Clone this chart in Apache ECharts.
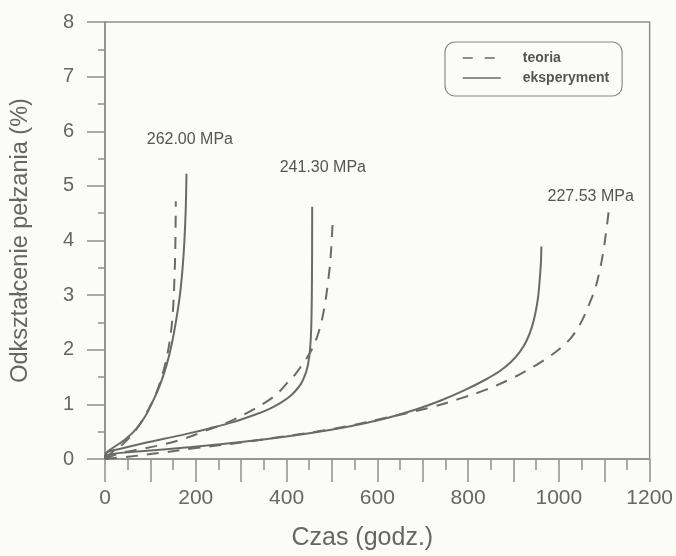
<!DOCTYPE html>
<html>
<head>
<meta charset="utf-8">
<script src="https://cdn.jsdelivr.net/npm/echarts@6/dist/echarts.min.js"></script>
<style>
  html, body { margin: 0; padding: 0; background: #fbfbf7; }
  #chart { width: 676px; height: 556px; }
</style>
</head>
<body>
<div id="chart"></div>
<script>
// Creep strain (%) versus time (h) at three stress levels.
// Each stress level has a theoretical curve and an experimental curve, given as [time, strain].
const stressLevels = ['262.00 MPa', '241.30 MPa', '227.53 MPa'];

const theory262 = [[0, 0], [15, 0.12], [40, 0.28], [65, 0.5], [90, 0.82], [110, 1.15], [125, 1.5],
  [137, 1.9], [145, 2.3], [150, 2.75], [153, 3.3], [155, 3.9], [156, 4.72]];
const experiment262 = [[0, 0], [4, 0.12], [20, 0.22], [45, 0.36], [70, 0.56], [90, 0.8], [105, 1.05],
  [120, 1.33], [135, 1.7], [147, 2.1], [157, 2.55], [165, 3.0], [171, 3.5], [175, 4.0], [178, 4.6], [179.5, 5.22]];

const theory241 = [[0, 0], [30, 0.1], [80, 0.18], [130, 0.27], [170, 0.36], [216, 0.5], [268, 0.66],
  [312, 0.84], [356, 1.05], [380, 1.2], [400, 1.38], [420, 1.56], [437, 1.76], [450, 1.92], [462, 2.12],
  [471, 2.33], [478, 2.55], [485, 2.85], [490, 3.15], [495, 3.5], [498, 3.8], [502, 4.4]];
const experiment241 = [[0, 0], [4, 0.12], [30, 0.18], [80, 0.28], [130, 0.37], [180, 0.46], [230, 0.56],
  [280, 0.67], [330, 0.81], [360, 0.91], [385, 1.02], [405, 1.13], [420, 1.25], [432, 1.38], [440, 1.52],
  [446, 1.68], [450, 1.88], [453, 2.15], [455, 2.6], [456, 3.3], [456.5, 4.62]];

const theory227 = [[0, 0], [60, 0.05], [120, 0.11], [200, 0.2], [300, 0.3], [400, 0.42], [480, 0.52],
  [540, 0.61], [600, 0.72], [660, 0.83], [720, 0.95], [780, 1.1], [840, 1.27], [900, 1.49], [950, 1.72],
  [980, 1.88], [1005, 2.04], [1025, 2.2], [1042, 2.4], [1056, 2.62], [1068, 2.86], [1080, 3.12],
  [1090, 3.45], [1098, 3.8], [1104, 4.15], [1110, 4.55]];
const experiment227 = [[0, 0], [8, 0.08], [80, 0.14], [190, 0.22], [300, 0.31], [400, 0.41], [495, 0.53],
  [570, 0.65], [630, 0.77], [690, 0.92], [740, 1.07], [790, 1.25], [840, 1.46], [870, 1.61], [895, 1.78],
  [914, 1.96], [928, 2.15], [940, 2.4], [948, 2.66], [954, 2.95], [958, 3.3], [960.5, 3.6], [961.5, 3.89]];

const xTicks = [0, 200, 400, 600, 800, 1000, 1200];
const yTicks = [0, 1, 2, 3, 4, 5, 6, 7, 8];

const lineColor = '#6a6a6a';
const axisColor = '#8e8e8e';
const textColor = '#666';
const fontFamily = "'Liberation Sans', Arial, sans-serif";
const dashPattern = [12, 9];

function curve(name, data, dashed, labelText, labelCoord) {
  const s = {
    name: name,
    type: 'line',
    data: data,
    symbol: 'none',
    smooth: 0.35,
    lineStyle: { color: lineColor, width: 2, type: dashed ? dashPattern : 'solid' },
    itemStyle: { color: lineColor },
    emphasis: { disabled: true },
    silent: true,
    z: dashed ? 3 : 4
  };
  if (labelText) {
    s.markPoint = {
      symbol: 'rect',
      symbolSize: 0,
      silent: true,
      data: [{ coord: labelCoord, value: labelText }],
      label: {
        show: true,
        position: 'inside',
        formatter: '{c}',
        color: '#555',
        fontSize: 16,
        fontFamily: fontFamily
      }
    };
  }
  return s;
}

const chart = echarts.init(document.getElementById('chart'), null, { renderer: 'canvas' });

chart.setOption({
  backgroundColor: '#fbfbf7',
  animation: false,
  grid: {
    left: 105, right: 26, top: 22, bottom: 97,
    show: true, borderColor: axisColor, borderWidth: 1.5, backgroundColor: 'transparent'
  },
  legend: {
    data: [
      { name: 'teoria', itemStyle: { opacity: 0 }, lineStyle: { type: [10, 12], width: 1.5 } },
      { name: 'eksperyment', itemStyle: { opacity: 0 }, lineStyle: { type: 'solid', width: 1.5 } }
    ],
    orient: 'vertical',
    left: 445,
    top: 42,
    itemWidth: 38,
    itemHeight: 14,
    itemGap: 6,
    padding: [9, 13, 11, 17],
    borderColor: '#8a8a8a',
    borderWidth: 1.2,
    borderRadius: 10,
    selectedMode: false,
    textStyle: {
      color: '#555',
      fontSize: 14,
      fontWeight: 'bold',
      fontFamily: fontFamily,
      padding: [0, 0, 0, 17]
    }
  },
  xAxis: {
    type: 'value',
    min: 0,
    max: 1200,
    interval: 100,
    name: 'Czas (godz.)',
    nameLocation: 'middle',
    nameGap: 67,
    nameTextStyle: { color: textColor, fontSize: 25, fontFamily: fontFamily, padding: [0, 30, 0, 0] },
    axisLine: { lineStyle: { color: axisColor, width: 1.5 } },
    axisTick: { show: true, inside: false, length: 23, lineStyle: { color: axisColor, width: 1.5 } },
    minorTick: { show: true, splitNumber: 2, length: 11, lineStyle: { color: axisColor, width: 1.5 } },
    axisLabel: {
      margin: 29,
      color: textColor,
      fontSize: 21,
      fontFamily: fontFamily,
      formatter: v => (xTicks.indexOf(v) >= 0 ? String(v) : '')
    },
    splitLine: { show: false },
    minorSplitLine: { show: false }
  },
  yAxis: {
    type: 'value',
    min: 0,
    max: 8,
    interval: 1,
    name: 'Odkształcenie pełzania (%)',
    nameLocation: 'middle',
    nameGap: 72,
    nameTextStyle: { color: textColor, fontSize: 23.5, fontFamily: fontFamily },
    axisLine: { show: true, lineStyle: { color: axisColor, width: 1.5 } },
    axisTick: { show: true, inside: false, length: 18, lineStyle: { color: axisColor, width: 1.5 } },
    minorTick: { show: true, splitNumber: 2, length: 7, lineStyle: { color: axisColor, width: 1.5 } },
    axisLabel: {
      margin: 31,
      color: textColor,
      fontSize: 20,
      fontFamily: fontFamily,
      formatter: v => (yTicks.indexOf(v) >= 0 ? String(v) : '')
    },
    splitLine: { show: false },
    minorSplitLine: { show: false }
  },
  series: [
    curve('teoria', theory262, true),
    curve('eksperyment', experiment262, false, stressLevels[0], [187, 5.84]),
    curve('teoria', theory241, true),
    curve('eksperyment', experiment241, false, stressLevels[1], [480, 5.33]),
    curve('teoria', theory227, true),
    curve('eksperyment', experiment227, false, stressLevels[2], [1070, 4.8])
  ]
});
</script>
</body>
</html>
